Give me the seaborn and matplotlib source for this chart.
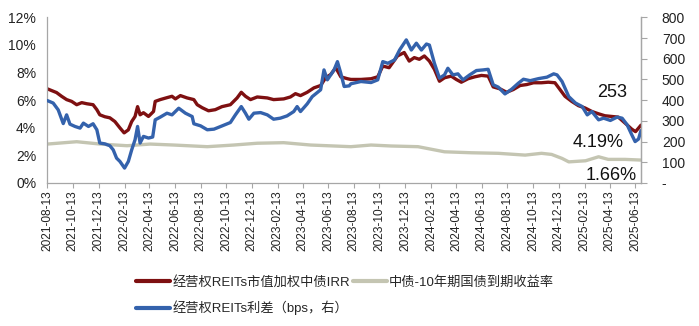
import matplotlib
matplotlib.use("Agg")
import matplotlib.pyplot as plt
import matplotlib.dates as mdates
from matplotlib.ticker import FixedLocator, FuncFormatter
from matplotlib.lines import Line2D
import pandas as pd
import seaborn as sns

# ---------------- data ----------------
irr_dates = [
    "2021-08-13", "2021-09-04", "2021-09-16", "2021-09-28", "2021-10-10", "2021-10-22",
    "2021-11-03", "2021-11-15", "2021-11-30", "2021-12-09", "2021-12-16", "2021-12-28",
    "2022-01-09", "2022-01-21", "2022-02-02", "2022-02-12", "2022-02-22", "2022-03-02",
    "2022-03-10", "2022-03-16", "2022-03-22", "2022-03-30", "2022-04-11", "2022-04-23",
    "2022-04-27", "2022-05-09", "2022-05-25", "2022-06-06", "2022-06-14", "2022-06-26",
    "2022-07-12", "2022-07-28", "2022-08-05", "2022-08-17", "2022-09-01", "2022-09-17",
    "2022-10-03", "2022-10-23", "2022-11-08", "2022-11-18", "2022-11-28", "2022-12-10",
    "2022-12-26", "2023-01-19", "2023-02-03", "2023-02-27", "2023-03-15", "2023-03-27",
    "2023-04-08", "2023-04-24", "2023-05-10", "2023-05-26", "2023-06-07", "2023-06-19",
    "2023-07-01", "2023-07-13", "2023-07-29", "2023-08-06", "2023-08-30", "2023-09-23",
    "2023-10-09", "2023-10-21", "2023-11-05", "2023-11-25", "2023-12-11", "2023-12-23",
    "2024-01-04", "2024-01-16", "2024-01-28", "2024-02-09", "2024-02-21", "2024-03-04",
    "2024-03-16", "2024-04-01", "2024-04-13", "2024-04-25", "2024-05-11", "2024-05-27",
    "2024-06-12", "2024-06-28", "2024-07-10", "2024-07-26", "2024-08-11", "2024-08-27",
    "2024-09-12", "2024-09-28", "2024-10-14", "2024-11-02", "2024-11-18", "2024-12-04",
    "2024-12-16", "2024-12-28", "2025-01-13", "2025-01-29", "2025-02-14", "2025-03-02",
    "2025-03-18", "2025-04-02", "2025-04-18", "2025-05-04", "2025-05-20", "2025-06-05",
    "2025-06-14", "2025-06-21", "2025-06-27",
]
irr_values = [
    6.82, 6.55, 6.28, 6.04, 5.91, 5.67,
    5.82, 5.74, 5.67, 5.31, 4.94, 4.80,
    4.72, 4.45, 3.99, 3.63, 3.85, 4.45,
    4.82, 5.53, 4.94, 5.09, 4.82, 5.18,
    5.91, 6.04, 6.18, 6.28, 6.09, 6.33,
    6.16, 6.04, 5.67, 5.45, 5.23, 5.31,
    5.53, 5.67, 6.16, 6.57, 6.28, 6.04,
    6.23, 6.16, 6.04, 6.09, 6.23, 6.47,
    6.33, 6.57, 6.89, 7.06, 7.62, 7.86,
    8.35, 7.69, 7.55, 7.50, 7.50, 7.55,
    7.69, 8.47, 8.35, 9.20, 9.45, 8.83,
    9.08, 8.96, 9.20, 8.83, 8.23, 7.37,
    7.62, 7.74, 7.50, 7.30, 7.55, 7.69,
    7.79, 7.74, 6.96, 6.82, 6.57, 6.77,
    7.06, 7.13, 7.26, 7.26, 7.30, 7.26,
    6.77, 6.28, 5.91, 5.60, 5.43, 5.18,
    5.01, 4.87, 4.82, 4.77, 4.34, 3.90,
    3.72, 3.97, 4.19,
]

yield_dates = [
    "2021-08-13", "2021-10-22", "2021-12-17", "2022-02-19", "2022-04-15", "2022-06-10",
    "2022-08-29", "2022-10-31", "2022-12-26", "2023-02-27", "2023-05-02", "2023-06-27",
    "2023-08-06", "2023-09-23", "2023-11-10", "2024-01-13", "2024-03-16", "2024-05-19",
    "2024-07-22", "2024-09-24", "2024-11-02", "2024-11-26", "2024-12-21", "2025-01-06",
    "2025-02-15", "2025-03-18", "2025-04-10", "2025-05-20", "2025-06-27",
]
yield_values = [
    2.82, 2.99, 2.82, 2.70, 2.82, 2.75,
    2.63, 2.75, 2.88, 2.92, 2.75, 2.68,
    2.63, 2.75, 2.68, 2.63, 2.26, 2.19,
    2.15, 2.02, 2.15, 2.07, 1.78, 1.53,
    1.61, 1.90, 1.71, 1.71, 1.66,
]

spread_dates = [
    "2021-08-13", "2021-08-27", "2021-09-08", "2021-09-20", "2021-09-28", "2021-10-06",
    "2021-10-18", "2021-10-30", "2021-11-07", "2021-11-19", "2021-11-30", "2021-12-09",
    "2021-12-16", "2021-12-28", "2022-01-09", "2022-01-17", "2022-01-25", "2022-02-02",
    "2022-02-13", "2022-02-22", "2022-03-02", "2022-03-10", "2022-03-16", "2022-03-22",
    "2022-03-30", "2022-04-11", "2022-04-21", "2022-04-27", "2022-05-09", "2022-05-25",
    "2022-06-06", "2022-06-22", "2022-07-08", "2022-07-24", "2022-07-28", "2022-08-13",
    "2022-08-29", "2022-09-14", "2022-09-30", "2022-10-23", "2022-11-04", "2022-11-18",
    "2022-11-28", "2022-12-06", "2022-12-18", "2023-01-03", "2023-01-19", "2023-02-03",
    "2023-02-19", "2023-03-07", "2023-03-23", "2023-03-31", "2023-04-08", "2023-04-24",
    "2023-05-06", "2023-05-26", "2023-06-03", "2023-06-11", "2023-06-27", "2023-07-05",
    "2023-07-13", "2023-07-21", "2023-08-02", "2023-08-06", "2023-08-30", "2023-09-23",
    "2023-10-09", "2023-10-21", "2023-11-02", "2023-11-18", "2023-11-30", "2023-12-16",
    "2023-12-28", "2024-01-09", "2024-01-21", "2024-02-02", "2024-02-09", "2024-02-21",
    "2024-03-04", "2024-03-16", "2024-03-24", "2024-04-05", "2024-04-17", "2024-04-29",
    "2024-05-15", "2024-05-31", "2024-06-16", "2024-06-28", "2024-07-10", "2024-07-22",
    "2024-08-07", "2024-08-23", "2024-09-08", "2024-09-20", "2024-10-06", "2024-10-26",
    "2024-11-15", "2024-12-01", "2024-12-09", "2024-12-21", "2025-01-06", "2025-01-22",
    "2025-02-07", "2025-02-19", "2025-03-02", "2025-03-18", "2025-03-30", "2025-04-15",
    "2025-05-01", "2025-05-13", "2025-05-25", "2025-06-05", "2025-06-13", "2025-06-21",
    "2025-06-27",
]
spread_values = [
    398, 386, 353, 287, 329, 284,
    273, 265, 289, 273, 286, 257,
    193, 189, 180, 160, 120, 104,
    72, 104, 160, 209, 273, 193,
    225, 217, 222, 305, 318, 337,
    329, 361, 337, 321, 286, 276,
    257, 260, 273, 292, 329, 369,
    337, 308, 337, 340, 329, 308,
    313, 324, 345, 369, 345, 382,
    417, 450, 546, 498, 546, 586,
    530, 466, 469, 479, 490, 485,
    498, 586, 578, 594, 642, 691,
    642, 675, 642, 671, 666, 578,
    506, 522, 554, 522, 527, 498,
    522, 543, 546, 549, 474, 463,
    430, 453, 482, 501, 494, 504,
    511, 527, 522, 490, 417, 386,
    369, 329, 345, 305, 313, 302,
    318, 313, 281, 233, 200, 212,
    253,
]

label_irr = "经营权REITs市值加权中债IRR"
label_yield = "中债-10年期国债到期收益率"
label_spread = "经营权REITs利差（bps，右）"

x_tick_dates = [
    "2021-08-13", "2021-10-13", "2021-12-13", "2022-02-13", "2022-04-13", "2022-06-13",
    "2022-08-13", "2022-10-13", "2022-12-13", "2023-02-13", "2023-04-13", "2023-06-13",
    "2023-08-13", "2023-10-13", "2023-12-13", "2024-02-13", "2024-04-13", "2024-06-13",
    "2024-08-13", "2024-10-13", "2024-12-13", "2025-02-13", "2025-04-13", "2025-06-13",
]
left_ticks = [0, 2, 4, 6, 8, 10, 12]
right_ticks = [0, 100, 200, 300, 400, 500, 600, 700, 800]

# ---------------- styling ----------------
sns.set_theme(style="white")
plt.rcParams["font.family"] = ["Liberation Sans", "Noto Sans CJK SC", "DejaVu Sans"]

RED = "#7E1011"
BLUE = "#3462AC"
GRAY = "#C4C5B2"
AXC = "#A6A6A6"

df_irr = pd.DataFrame({"date": pd.to_datetime(irr_dates), "value": irr_values})
df_yld = pd.DataFrame({"date": pd.to_datetime(yield_dates), "value": yield_values})
df_spr = pd.DataFrame({"date": pd.to_datetime(spread_dates), "value": spread_values})

fig = plt.figure(figsize=(6.99, 3.26), dpi=100)
ax = fig.add_axes([47.3 / 699, 1 - 183 / 326, (641 - 47.3) / 699, (183 - 17.3) / 326])
ax2 = ax.twinx()

sns.lineplot(data=df_yld, x="date", y="value", ax=ax, color=GRAY, linewidth=2.4)
sns.lineplot(data=df_irr, x="date", y="value", ax=ax, color=RED, linewidth=2.4)
sns.lineplot(data=df_spr, x="date", y="value", ax=ax2, color=BLUE, linewidth=2.4)

ax.set_xlim(pd.Timestamp("2021-08-13"), pd.Timestamp("2025-06-27"))
ax.set_ylim(0, 12)
ax2.set_ylim(0, 800)
ax.set_xlabel("")
ax.set_ylabel("")
ax2.set_xlabel("")
ax2.set_ylabel("")

ax.xaxis.set_major_locator(FixedLocator(mdates.date2num(pd.to_datetime(x_tick_dates))))
ax.xaxis.set_major_formatter(mdates.DateFormatter("%Y-%m-%d"))
ax.set_yticks(left_ticks)
ax.yaxis.set_major_formatter(FuncFormatter(lambda v, p: f"{v:.0f}%"))
ax2.set_yticks(right_ticks)
ax2.yaxis.set_major_formatter(FuncFormatter(lambda v, p: "-" if v == 0 else f"{v:.0f}"))

for a in (ax, ax2):
    for s in a.spines.values():
        s.set_color(AXC)
        s.set_linewidth(0.9)
    a.spines["top"].set_visible(False)
    a.grid(False)
ax2.spines["left"].set_visible(False)
ax2.spines["bottom"].set_visible(False)

ax.tick_params(axis="x", direction="out", length=3.5, width=0.8, color=AXC, pad=1.5,
               labelsize=8.6, labelrotation=90, labelcolor="#222222", bottom=True)
ax.tick_params(axis="y", length=0, pad=8, labelsize=10, labelcolor="#222222")
ax2.tick_params(axis="y", direction="out", length=4, width=0.8, color=AXC, pad=11,
                labelsize=10, labelcolor="#222222", right=True)

# end-value annotations
fig.text(611.7 / 699, 1 - 92.5 / 326, "253", ha="center", va="center", fontsize=13, color="#111111")
fig.text(598 / 699, 1 - 142.7 / 326, "4.19%", ha="center", va="center", fontsize=13, color="#111111")
fig.text(611.5 / 699, 1 - 175.5 / 326, "1.66%", ha="center", va="center", fontsize=13, color="#111111")

handles = [
    Line2D([], [], color=RED, linewidth=3),
    Line2D([], [], color=BLUE, linewidth=3),
    Line2D([], [], color=GRAY, linewidth=3),
]
labels = [label_irr, label_spread, label_yield]
fig.legend(handles, labels, loc="upper left", bbox_to_anchor=(136 / 699, 1 - 276 / 326),
           ncol=2, frameon=False, fontsize=9.5, handlelength=2.6, handletextpad=0.15,
           columnspacing=0.2, labelspacing=0.9, borderpad=0, borderaxespad=0)

fig.savefig("out.png", dpi=100)
